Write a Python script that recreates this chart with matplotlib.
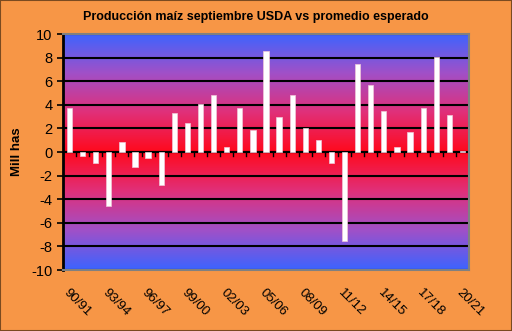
import numpy as np
import matplotlib.pyplot as plt
from matplotlib.colors import LinearSegmentedColormap
from matplotlib.patches import Rectangle

plt.rcParams['font.family'] = ['Liberation Sans', 'DejaVu Sans']
plt.rcParams['axes.unicode_minus'] = False

# campañas 90/91 .. 20/21
seasons = ['90/91', '91/92', '92/93', '93/94', '94/95', '95/96', '96/97', '97/98',
           '98/99', '99/00', '00/01', '01/02', '02/03', '03/04', '04/05', '05/06',
           '06/07', '07/08', '08/09', '09/10', '10/11', '11/12', '12/13', '13/14',
           '14/15', '15/16', '16/17', '17/18', '18/19', '19/20', '20/21']
# diferencia USDA septiembre vs promedio esperado (mill has)
diff = [3.7, -0.3, -0.95, -4.55, 0.85, -1.3, -0.5, -2.75,
        3.3, 2.45, 4.1, 4.8, 0.4, 3.7, 1.85, 8.55,
        2.95, 4.8, 2.0, 1.0, -0.95, -7.5, 7.45, 5.7,
        3.5, 0.45, 1.7, 3.75, 8.05, 3.15, 0.1]
shown_labels = seasons[::3]

orange = '#F79646'
fig = plt.figure(figsize=(5.12, 3.31), dpi=100, facecolor=orange)
# borde exterior del gráfico
fig.patches.append(Rectangle((0, 0), 1, 1, transform=fig.transFigure, fill=False,
                             edgecolor='#7A4A20', linewidth=1.5))
ax = fig.add_axes([0.123, 0.184, 0.793, 0.713])

# fondo degradado: azul arriba/abajo, rojo en el cero
cmap = LinearSegmentedColormap.from_list('grad', ['#FF0A1E', '#E0307A', '#A050C8', '#3C64FF'])
yy = np.linspace(-10, 10, 400)
grad = np.abs(yy)[:, None] / 10
n = len(seasons)
ax.imshow(grad, cmap=cmap, aspect='auto', origin='lower',
          extent=[-0.5, n - 0.5, -10, 10], zorder=0)

x = np.arange(n)
ax.bar(x, diff, width=0.4, color='white', edgecolor='#F0C8D8', linewidth=0.5, zorder=3)

ax.set_xlim(-0.5, n - 0.5)
ax.set_ylim(-10, 10)
ax.set_yticks(range(-10, 11, 2))
ax.yaxis.grid(True, color='black', linewidth=1.5, zorder=1)
ax.set_axisbelow(True)

# eje x en el cero
ax.axhline(0, color='black', linewidth=1.5, zorder=2)
for xi in np.arange(-0.5, n, 1):
    ax.plot([xi, xi], [0, -0.3], color='black', linewidth=1, zorder=2)

ax.set_xticks(x[::3])
ax.set_xticklabels(shown_labels, rotation=-45, ha='left', va='top',
                   rotation_mode='anchor', fontsize=9.5)
ax.tick_params(axis='x', length=0, pad=12)
ax.tick_params(axis='y', length=4, width=1.2, labelsize=10.5, direction='out')

for side in ['top', 'right', 'bottom']:
    ax.spines[side].set_color('#808080')
    ax.spines[side].set_linewidth(1.5)
ax.spines['left'].set_linewidth(2)

ax.set_ylabel('Mill has', fontsize=9.5, fontweight='bold', labelpad=6)
fig.text(0.5, 0.948, 'Producción maíz septiembre USDA vs promedio esperado',
         ha='center', va='center', fontsize=9, fontweight='bold')

fig.savefig('out.png', dpi=100, facecolor=orange)
